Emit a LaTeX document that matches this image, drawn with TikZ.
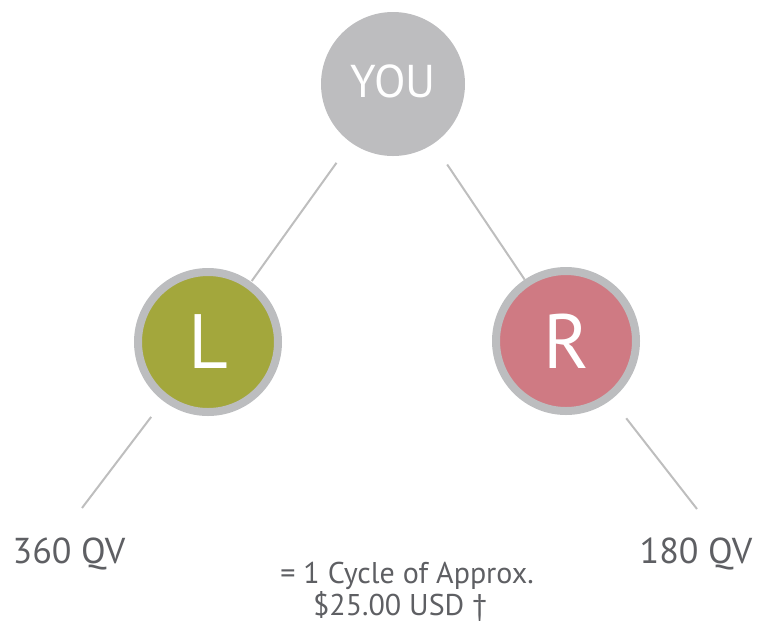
\documentclass[tikz,border=0pt]{standalone}
\usepackage{fontspec}
\setmainfont{PT Sans}
\definecolor{ringgray}{HTML}{BCBDBF}
\definecolor{yougray}{HTML}{BDBDBF}
\definecolor{olive}{HTML}{A3A73C}
\definecolor{rose}{HTML}{CF7A83}
\definecolor{linkgray}{HTML}{BEBEBE}
\definecolor{textgray}{HTML}{5E5F63}

\begin{document}
\begin{tikzpicture}[x=1pt, y=-1pt,
					every node/.style={inner sep=0pt, outer sep=0pt},
					ball/.style={circle, draw=ringgray, line width=8pt, minimum size=140pt,
						text=white, font=\fontsize{77}{77}\selectfont},
					top/.style={circle, fill=yougray, minimum size=144pt,
						text=white, font=\fontsize{46}{46}\selectfont},
					link/.style={draw=linkgray, line width=2pt},
					qv/.style={anchor=base, text=textgray, font=\fontsize{36}{36}\selectfont},
					note/.style={anchor=base, text=textgray, font=\fontsize{30}{30}\selectfont}]
\useasboundingbox (0,0) rectangle (766,625);
\node[top] (you) at (393,84) {\raisebox{5pt}{YOU}};
\node[ball, fill=olive] (L) at (208,342) {L};
\node[ball, fill=rose] (R) at (566,341) {R};
\coordinate (lend) at (82,508);
\coordinate (rend) at (697,509);
\draw[link, shorten <=25pt, shorten >=5pt] (you) -- (L);
\draw[link, shorten <=25pt, shorten >=4pt] (you) -- (R);
\draw[link, shorten <=24pt] (L) -- (lend);
\draw[link, shorten <=28pt] (R) -- (rend);
\node[qv] (lqv) at (69,563) {360 QV};
\node[qv] (rqv) at (696,563) {180 QV};
\node[note] (cycle) at (407,583) {= 1 Cycle of Approx.};
\node[note] (usd) at (400,615) {\$25.00 USD \textdagger};
\end{tikzpicture}
\end{document}
